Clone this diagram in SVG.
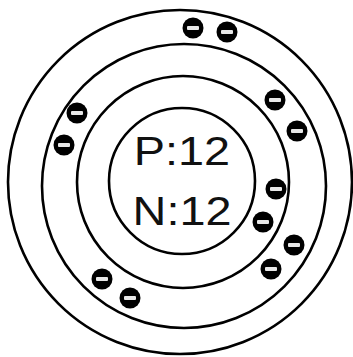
<svg xmlns="http://www.w3.org/2000/svg" width="353" height="357" viewBox="0 0 353 357">
<defs>
<style>
.shell{fill:none;stroke:#000;stroke-width:2.6}
.nuc{font-family:"Liberation Sans",Arial,sans-serif;font-size:40px;fill:#111}
.bar{fill:#e8e8e8}
</style>
<g id="electron">
<circle r="10.5" fill="#000"/>
<rect class="bar" x="-6" y="-2" width="12" height="4" rx="1"/>
</g>
</defs>
<rect width="353" height="357" fill="#fff"/>
<g id="shells">
<circle class="shell" cx="180" cy="182" r="172"/>
<circle class="shell" cx="184" cy="186" r="142"/>
<circle class="shell" cx="183" cy="182" r="106"/>
</g>
<g id="nucleus">
<circle class="shell" cx="182" cy="181" r="73"/>
<text class="nuc" transform="translate(182,165) scale(1.17,1)" text-anchor="middle">P:12</text>
<text class="nuc" transform="translate(182,225) scale(1.17,1)" text-anchor="middle">N:12</text>
</g>
<g id="electrons">
<use href="#electron" x="193" y="28"/>
<use href="#electron" x="227" y="32"/>
<use href="#electron" x="77" y="113"/>
<use href="#electron" x="64" y="145"/>
<use href="#electron" x="275" y="100"/>
<use href="#electron" x="297" y="131"/>
<use href="#electron" x="276" y="189"/>
<use href="#electron" x="263" y="222"/>
<use href="#electron" x="294" y="245"/>
<use href="#electron" x="271" y="269"/>
<use href="#electron" x="102" y="279"/>
<use href="#electron" x="130" y="298"/>
</g>
</svg>
